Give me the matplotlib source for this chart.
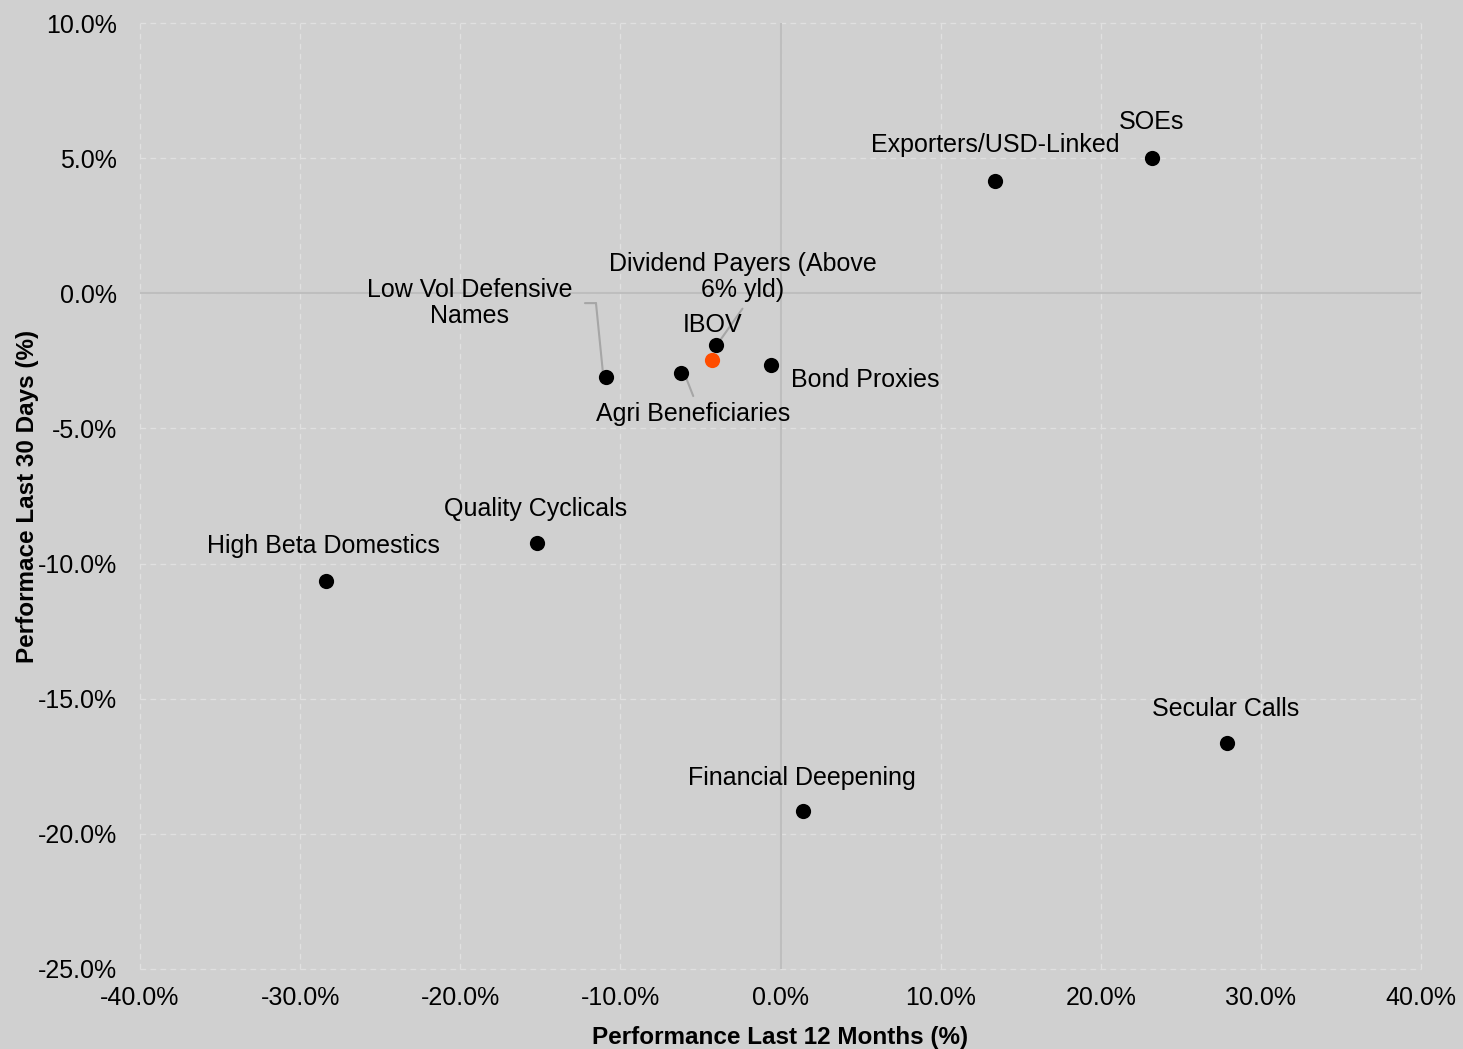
import matplotlib.pyplot as plt
from matplotlib.ticker import FuncFormatter, MultipleLocator
from matplotlib.transforms import offset_copy

plt.rcParams['font.family'] = ['Liberation Sans', 'DejaVu Sans']

# performance of each basket, in percent
names = ['SOEs', 'Exporters/USD-Linked', 'Dividend Payers (Above\n6% yld)', 'IBOV',
         'Bond Proxies', 'Agri Beneficiaries', 'Low Vol Defensive\nNames',
         'Quality Cyclicals', 'High Beta Domestics', 'Financial Deepening', 'Secular Calls']
perf_12m = [23.2, 13.4, -4.0, -4.3, -0.6, -6.2, -10.9, -15.2, -28.4, 1.4, 27.9]
perf_30d = [5.0, 4.15, -1.9, -2.45, -2.65, -2.95, -3.1, -9.25, -10.65, -19.15, -16.65]
benchmark = 'IBOV'

# label offsets from each point, in pixels
label_offsets = [(-1, 36), (0, 36), (26, 68), (1, 35), (94, -15), (12, -41),
                 (-136, 74), (-2, 34), (-2, 35), (-1, 33), (-2, 34)]
# leader lines, pixel offsets from the point
leaders = {
    'Dividend Payers (Above\n6% yld)': [(26, 36), (2, 2)],
    'Agri Beneficiaries': [(3, 0), (12, -23)],
    'Low Vol Defensive\nNames': [(-21, 74), (-10, 74), (-3, 4)],
}

bg = '#D0D0D0'
fig = plt.figure(figsize=(14.63, 10.49), dpi=100, facecolor=bg)
ax = fig.add_axes([0.0957, 0.0763, 0.8756, 0.9017], facecolor=bg)

ax.set_xlim(-40, 40)
ax.set_ylim(-25, 10)
ax.xaxis.set_major_locator(MultipleLocator(10))
ax.yaxis.set_major_locator(MultipleLocator(5))
pct = FuncFormatter(lambda v, _: f'{v:.1f}%')
ax.xaxis.set_major_formatter(pct)
ax.yaxis.set_major_formatter(pct)
ax.tick_params(length=0, labelsize=18, colors='black')
ax.tick_params(axis='x', pad=12)
ax.tick_params(axis='y', pad=16.5)
for s in ax.spines.values():
    s.set_visible(False)
ax.set_axisbelow(True)
ax.grid(True, color='#E0E0E0', linestyle=(0, (4.5, 3.5)), linewidth=0.9, clip_on=False)
ax.axhline(0, color='#BEBEBE', linewidth=1.5, zorder=1)
ax.axvline(0, color='#BEBEBE', linewidth=1.5, zorder=1)

for name, x, y, off in zip(names, perf_12m, perf_30d, label_offsets):
    color = '#FF4D00' if name == benchmark else 'black'
    ax.scatter(x, y, s=120, color=color, zorder=4, linewidths=0)
    ax.annotate(name, (x, y), xytext=off, textcoords='offset pixels',
                ha='center', va='center', fontsize=18, linespacing=1.12)
    if name in leaders:
        pts = leaders[name]
        for (dx0, dy0), (dx1, dy1) in zip(pts[:-1], pts[1:]):
            t0 = offset_copy(ax.transData, fig, x=dx0, y=dy0, units='dots')
            t1 = offset_copy(ax.transData, fig, x=dx1, y=dy1, units='dots')
            ax.annotate('', xy=(x, y), xycoords=t1, xytext=(x, y), textcoords=t0,
                        arrowprops=dict(arrowstyle='-', color='#A6A6A6', lw=1.5,
                                        shrinkA=0, shrinkB=0))

ax.set_xlabel('Performance Last 12 Months (%)', fontsize=17.5, fontweight='bold', labelpad=12)
ax.set_ylabel('Performace Last 30 Days (%)', fontsize=17.5, fontweight='bold', labelpad=-1)

fig.savefig('out.png', dpi=100, facecolor=bg)
